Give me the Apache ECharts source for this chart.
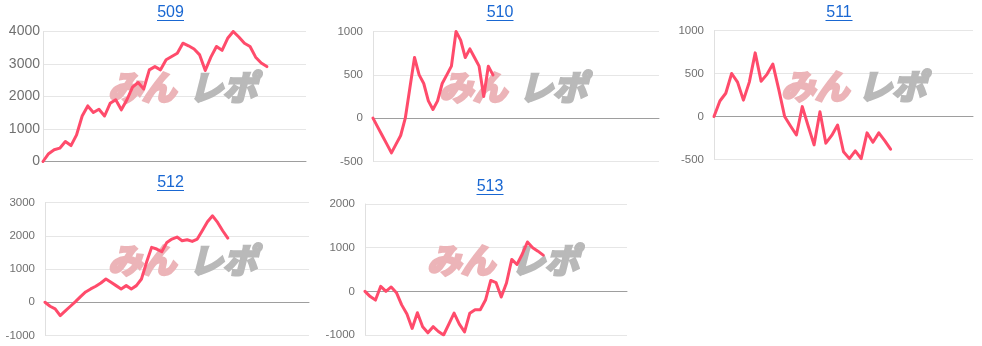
<!DOCTYPE html>
<html><head><meta charset="utf-8">
<script src="https://cdn.jsdelivr.net/npm/echarts@6/dist/echarts.min.js"></script>
<style>html,body{margin:0;padding:0;background:#fff}#c{width:982px;height:346px}</style>
</head><body><div id="c"></div>
<script>
const titles = ['509', '510', '511', '512', '513'];
const s509 = [0,240,360,410,615,490,820,1400,1710,1510,1610,1400,1790,1900,1590,1900,2290,2430,2230,2820,2920,2820,3130,3230,3330,3640,3560,3460,3280,2800,3210,3540,3420,3790,4000,3830,3640,3540,3210,3030,2920];
const s510 = [0,-100,-200,-300,-400,-300,-200,0,350,700,500,400,200,100,200,400,500,600,1000,900,700,800,700,600,250,600,500];
const s511 = [0,180,270,500,400,190,400,740,410,490,610,315,0,-110,-215,115,-110,-330,55,-310,-220,-100,-410,-490,-400,-490,-190,-300,-190,-280,-380];
const s512 = [0,-120,-200,-400,-260,-120,20,170,310,400,480,580,700,600,500,400,500,400,500,700,1200,1650,1600,1520,1800,1900,1960,1850,1880,1830,1900,2160,2420,2600,2400,2150,1930];
const s513 = [0,-120,-200,115,0,100,-30,-310,-520,-850,-490,-810,-950,-810,-920,-1000,-750,-500,-750,-930,-500,-420,-420,-200,250,200,-130,190,730,615,850,1130,1000,920,830];
const seriesData = [s509, s510, s511, s512, s513];
const yMin = [0, -500, -500, -1000, -1000];
const yMax = [4000, 1000, 1000, 3000, 2000];
const yStep = [1000, 500, 500, 1000, 1000];
const catCount = [48, 63, 45, 53, 51];
const watermark = ['みん', 'レポ'];

const layout = [
  {left:43,  top:31.5, width:263, height:130, tx:170.5, ty:13,  w1:108, w2:189, wy:87,    fs:14, mg:3},
  {left:373, top:31.5, width:286, height:130, tx:500,   ty:13,  w1:439, w2:519, wy:87.5,  fs:11.5, mg:10},
  {left:714, top:30.5, width:259, height:129, tx:839,   ty:13,  w1:781, w2:858, wy:86,    fs:11.5, mg:10},
  {left:45,  top:202.5,width:264, height:133, tx:170.5, ty:183, w1:108, w2:189, wy:260.5, fs:11.5, mg:10},
  {left:365, top:204,  width:262, height:131, tx:490,   ty:187, w1:427, w2:511, wy:260.5, fs:11.5, mg:10}
];

const FONT = 'Arial, "Liberation Sans", sans-serif';
const grids = [], xAxes = [], yAxes = [], series = [], graphics = [];
layout.forEach((L, i) => {
  grids.push({left: L.left, top: L.top, width: L.width, height: L.height, containLabel: false});
  const cats = Array.from({length: catCount[i]}, (_, k) => String(k + 1));
  xAxes.push({
    gridIndex: i, type: 'category', data: cats, boundaryGap: false,
    axisLine: {show: true, onZero: true, lineStyle: {color: '#9e9e9e', width: 1}},
    axisTick: {show: false}, axisLabel: {show: false}, splitLine: {show: false}
  });
  yAxes.push({
    gridIndex: i, type: 'value', min: yMin[i], max: yMax[i], interval: yStep[i],
    axisLine: {show: true, onZero: false, lineStyle: {color: '#e0e0e0'}},
    axisTick: {show: false},
    axisLabel: {color: '#707070', fontSize: L.fs, margin: L.mg, fontFamily: FONT, formatter: v => String(v)},
    splitLine: {show: true, lineStyle: {color: '#e6e6e6', width: 1}}
  });
  series.push({
    type: 'line', xAxisIndex: i, yAxisIndex: i, data: seriesData[i],
    showSymbol: false, symbol: 'none', silent: true, z: 5,
    lineStyle: {color: '#ff4b6b', width: 3, join: 'round', cap: 'round'},
    itemStyle: {color: '#ff4b6b'}
  });
  graphics.push({
    type: 'text', x: L.tx, y: L.ty, z: 10,
    style: {text: titles[i], fill: '#1967d2', font: '16px ' + FONT, align: 'center', verticalAlign: 'middle'}
  });
  graphics.push({
    type: 'line', z: 10,
    shape: {x1: L.tx - 13.5, y1: L.ty + 7.5, x2: L.tx + 13.5, y2: L.ty + 7.5},
    style: {stroke: '#1967d2', lineWidth: 1}
  });
  graphics.push({
    type: 'text', x: L.w1, y: L.wy, z: 1,
    style: {text: watermark[0], fill: '#ecb4b8', stroke: '#ecb4b8', lineWidth: 3, lineJoin: 'round',
            font: 'italic bold 34px "Noto Sans CJK JP"', align: 'left', verticalAlign: 'middle'}
  });
  graphics.push({
    type: 'text', x: L.w2, y: L.wy, z: 1,
    style: {text: watermark[1], fill: '#b9b9b9', stroke: '#b9b9b9', lineWidth: 3, lineJoin: 'round',
            font: 'italic bold 34px "Noto Sans CJK JP"', align: 'left', verticalAlign: 'middle'}
  });
});

const chart = echarts.init(document.getElementById('c'), null, {renderer: 'canvas'});
chart.setOption({
  animation: false,
  backgroundColor: '#ffffff',
  grid: grids, xAxis: xAxes, yAxis: yAxes, series: series,
  graphic: graphics
});
</script>
</body></html>
